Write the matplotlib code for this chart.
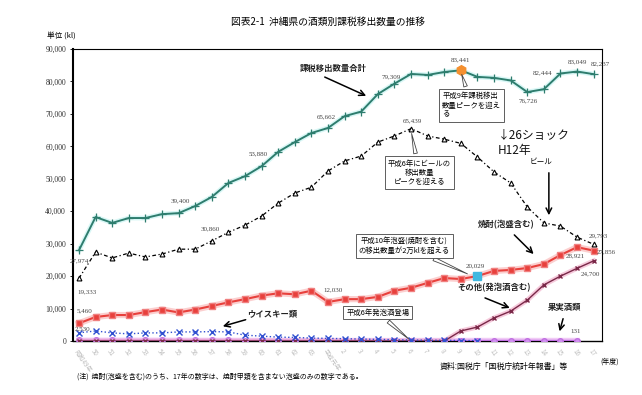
import numpy as np
import matplotlib
matplotlib.use("Agg")
import matplotlib.pyplot as plt

plt.rcParams['font.family'] = ['Noto Sans CJK JP', 'DejaVu Sans']
NUM = ['Liberation Serif', 'DejaVu Serif']

# 昭和49年度 〜 平成17年度
years = ["昭和49年"] + [str(y) for y in range(50, 64)] + ["平成元年"] + [str(y) for y in range(2, 18)]

total = [27974, 38200, 36400, 37900, 37900, 39100, 39400, 41600, 44400, 48700,
         50800, 53880, 58300, 61300, 64100, 65662, 69300, 70700, 76100, 79309,
         82300, 82000, 82900, 83441, 81400, 81100, 80300, 76726, 77600, 82444,
         83049, 82237]
beer = [19333, 27400, 25600, 27100, 25900, 26800, 28300, 28300, 30860, 33500,
        35700, 38500, 42500, 45600, 47400, 52400, 55500, 57000, 61300, 63200,
        65439, 63200, 62200, 60900, 56700, 52100, 48700, 41300, 36400, 35400,
        32000, 29793]
shochu = [5460, 7400, 8000, 8000, 8900, 9700, 8800, 9700, 10800, 11900,
          12900, 14000, 14700, 14400, 15500, 12030, 12900, 12900, 13600, 15500,
          16400, 17900, 19400, 19100, 20029, 21600, 21900, 22500, 23700, 26500,
          28921, 27856]
whisky = [2530, 3100, 2500, 2200, 2500, 2500, 2800, 2800, 2900, 2800,
          1800, 1500, 1200, 1100, 900, 800, 700, 600, 500, 400,
          300, 250, 200, 150, 100] + [np.nan] * 7
other = [0] * 23 + [3100, 4300, 7100, 9200, 12600, 17300, 20000, 22400, 24700]
fruit = [180, 190, 200, 210, 200, 190, 180, 170, 160, 160,
         150, 150, 140, 140, 130, 130, 120, 120, 110, 110,
         110, 120, 120, 130, 130, 130, 140, 140, 130, 130,
         131, np.nan]

x = np.arange(len(years))

fig = plt.figure(figsize=(6.42, 3.95), dpi=100)
ax = fig.add_axes([0.1137, 0.1367, 0.824, 0.7393])

# lines, with a soft glow under some of them
ax.plot(x, fruit, color='#e8a8f0', lw=4, alpha=0.6, zorder=2)
ax.plot(x, fruit, color='#c070e0', lw=1.2, marker='o', ms=4, mfc='#d090f0', mec='#c070e0', zorder=3)
ax.plot(x, other, color='#f0a0c0', lw=3.5, alpha=0.55, zorder=3)
ax.plot(x, other, color='#7a2848', lw=1.0, marker='x', ms=3.5, mew=1, zorder=4)
ax.plot(x, whisky, color='#3050d0', lw=1.0, ls=':', marker='x', ms=4, mew=1, zorder=5)
ax.plot(x, shochu, color='#f8a8a8', lw=4.5, alpha=0.55, zorder=3)
ax.plot(x, shochu, color='#e8403c', lw=1.5, marker='s', ms=4, mfc='#e8403c', mec='#f08080', zorder=4)
ax.plot(x, beer, color='black', lw=0.9, ls=(0, (3, 2, 1, 2)), marker='^', ms=3.5, mfc='white', mec='black', mew=0.8, zorder=4)
ax.plot(x, total, color='#bff2f0', lw=3.5, alpha=0.6, zorder=3)
ax.plot(x, total, color='#2e7d6e', lw=1.4, marker='+', ms=5.5, mew=0.9, zorder=4)

# highlighted points
ax.plot(x[23], total[23], marker='h', ms=7, color='#f59030', zorder=6)
ax.plot(x[24], shochu[24], marker='s', ms=5.5, color='#40b8e0', zorder=6)

ax.set_xlim(-0.36, 31.5)
ax.set_ylim(0, 90000)
ax.set_yticks(np.arange(0, 90001, 10000))
ax.set_yticklabels([f"{v:,}" for v in range(0, 90001, 10000)], family=NUM, fontsize=5.5, color='#333333')
ax.tick_params(axis='y', length=2, width=0.6, pad=3)
ax.set_xticks(x)
ax.set_xticklabels(years, rotation=-55, ha='left', va='top', rotation_mode='anchor',
                   fontsize=4.5, color='#bdbdbd')
ax.tick_params(axis='x', length=0, pad=5)
ax.spines['left'].set_linewidth(1.5)
ax.spines['bottom'].set_linewidth(1.0)
for s in ['top', 'right']:
    ax.spines[s].set_linewidth(0.8)

# value labels
labels = [
    (18.8, 81400, "79,309", 'center'), (22.95, 86600, "83,441", 'center'),
    (27.05, 74000, "76,726", 'center'), (27.9, 82600, "82,444", 'center'),
    (30.0, 86000, "83,049", 'center'), (31.4, 85400, "82,237", 'center'),
    (14.9, 69000, "65,662", 'center'), (10.8, 57600, "53,880", 'center'),
    (6.1, 43100, "39,400", 'center'), (7.9, 34500, "30,860", 'center'),
    (20.05, 67800, "65,439", 'center'), (0.05, 24700, "27,974", 'center'),
    (0.5, 15100, "19,333", 'center'), (0.35, 9250, "5,460", 'center'),
    (0.2, 3700, "2,530", 'center'), (15.3, 15700, "12,030", 'center'),
    (23.85, 23100, "20,029", 'center'), (29.9, 26200, "28,921", 'center'),
    (31.2, 27400, "27,856", 'left'), (31.25, 32400, "29,793", 'center'),
    (30.8, 20650, "24,700", 'center'), (29.9, 2800, "131", 'center'),
]
for lx, ly, t, h in labels:
    ax.text(lx, ly, t, ha=h, va='center', fontsize=5, family=NUM, color='#444444', clip_on=False, zorder=7)

arrow = dict(arrowstyle='->', color='black', lw=1.1)
bold = dict(fontsize=6, fontweight='bold', color='#222222')

ax.text(15.3, 84100, "課税移出数量合計", ha='center', va='center', **bold)
ax.annotate("", xy=(17.45, 75200), xytext=(14.65, 81700), arrowprops=arrow)

ax.text(25.2, 61000, "↓26ショック\nH12年", ha='left', va='center', fontsize=8.5, linespacing=1.25, color='#111111')

ax.text(27.8, 55200, "ビール", ha='center', va='center', fontsize=5.5)
ax.annotate("", xy=(28.3, 37900), xytext=(28.3, 52700), arrowprops=arrow)

ax.text(24.0, 35750, "焼酎(泡盛含む)", ha='left', va='center', **bold)
ax.annotate("", xy=(27.5, 26200), xytext=(26.1, 33300), arrowprops=arrow)

ax.text(22.8, 16300, "その他(発泡酒含む)", ha='left', va='center', **bold)
ax.annotate("", xy=(26.1, 9860), xytext=(24.3, 13600), arrowprops=arrow)

ax.text(28.25, 10200, "果実酒類", ha='left', va='center', **bold)
ax.annotate("", xy=(28.9, 2150), xytext=(29.2, 7700), arrowprops=arrow)

ax.text(10.1, 8000, "ウイスキー類", ha='left', va='center', **bold)
ax.annotate("", xy=(8.5, 4300), xytext=(10.2, 6800), arrowprops=arrow)

# callout boxes
box = dict(boxstyle='square,pad=0.4', fc='white', ec='#444444', lw=0.6)
wedge = dict(arrowstyle='wedge,tail_width=0.5', fc='white', ec='#444444', lw=0.6)
ax.annotate("平成9年課税移出\n数量ピークを迎え\nる", xy=(23.0, 83000), xytext=(23.65, 72580),
            ha='center', va='center', multialignment='left', fontsize=5.3, bbox=box, arrowprops=wedge, zorder=8)
ax.annotate("平成6年にビールの\n移出数量\nピークを迎える", xy=(20.0, 64800), xytext=(20.5, 51900),
            ha='center', va='center', multialignment='center', fontsize=5.3, bbox=box, arrowprops=wedge, zorder=8)
ax.annotate("平成10年泡盛(焼酎を含む)\nの移出数量が2万klを超える", xy=(23.55, 20340), xytext=(19.6, 29300),
            ha='center', va='center', fontsize=5.3, bbox=box, arrowprops=wedge, zorder=8)
ax.annotate("平成6年発泡酒登場", xy=(20.0, 0), xytext=(18.0, 8780),
            ha='center', va='center', fontsize=5.3, bbox=box, arrowprops=wedge, zorder=8)

fig.text(0.511, 0.944, "図表2-1  沖縄県の酒類別課税移出数量の推移", ha='center', va='center', fontsize=7)
fig.text(0.073, 0.911, "単位 (kl)", ha='left', va='center', fontsize=5.5)
fig.text(0.12, 0.046, "(注)  焼酎(泡盛を含む)のうち、17年の数字は、焼酎甲類を含まない泡盛のみの数字である。",
         ha='left', va='center', fontsize=5)
fig.text(0.685, 0.073, "資料:国税庁「国税庁統計年報書」等", ha='left', va='center', fontsize=5.7)
fig.text(0.935, 0.084, "(年度)", ha='left', va='center', fontsize=5)

fig.savefig("out.png", dpi=100)
